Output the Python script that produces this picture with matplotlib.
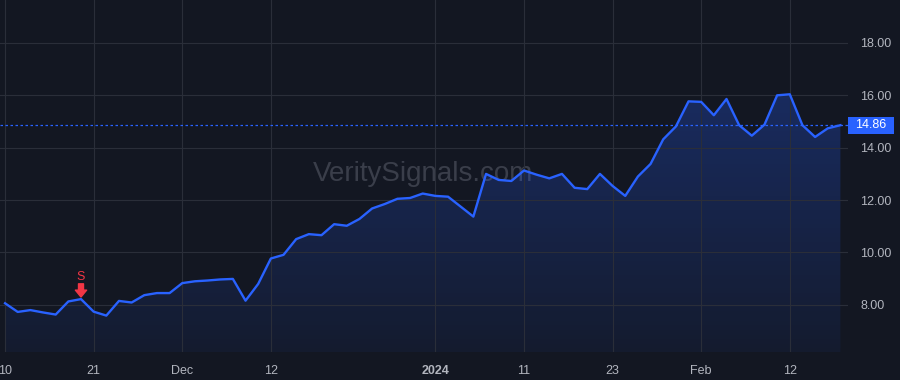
import numpy as np
import matplotlib
matplotlib.use("Agg")
import matplotlib.pyplot as plt
import matplotlib.transforms as mtransforms
from matplotlib.patches import Rectangle, Polygon

# closing prices, one per trading day (Nov 10 2023 .. Feb 16 2024)
prices = [8.06, 7.73, 7.80, 7.71, 7.63, 8.13, 8.22, 7.74, 7.59, 8.15,
          8.09, 8.37, 8.45, 8.45, 8.83, 8.90, 8.93, 8.97, 8.99, 8.16,
          8.80, 9.77, 9.91, 10.51, 10.70, 10.66, 11.08, 11.02, 11.28, 11.68,
          11.85, 12.05, 12.08, 12.25, 12.16, 12.13, 11.75, 11.37, 13.00, 12.77,
          12.73, 13.13, 12.97, 12.83, 13.00, 12.47, 12.42, 13.00, 12.54, 12.16,
          12.90, 13.38, 14.32, 14.81, 15.77, 15.75, 15.24, 15.86, 14.86, 14.46,
          14.88, 16.00, 16.04, 14.86, 14.41, 14.74, 14.86]

tick_pos = [0, 7, 14, 21, 34, 41, 48, 55, 62]
tick_labels = ["10", "21", "Dec", "12", "2024", "11", "23", "Feb", "12"]
y_ticks = [8, 10, 12, 14, 16, 18]
signal_idx = 6
signal_label = "S"
last_price = 14.86

bg = "#131722"
grid = "#2a2e39"
blue = "#2962ff"
txt = "#b2b5be"
red = "#f23645"

plt.rcParams['font.family'] = ['Liberation Sans', 'DejaVu Sans']

x = np.arange(len(prices))
y = np.array(prices)

fig = plt.figure(figsize=(9, 3.8), dpi=100, facecolor=bg)
ax = fig.add_axes([0, 28/380, 848/900, 352/380])
ax.set_facecolor(bg)

ax.set_xlim(-0.4, 66.6)
ax.set_ylim(6.2, 19.64)

# gradient fill under the line
ymin, ymax = ax.get_ylim()
grad = np.linspace(0, 1, 256).reshape(-1, 1)
cmap = matplotlib.colors.LinearSegmentedColormap.from_list(
    "g", [(0.16, 0.38, 1.0, 0.06), (0.16, 0.38, 1.0, 0.28)])
im = ax.imshow(grad, extent=[x[0], x[-1], ymin, 16.1], origin="lower",
               aspect="auto", cmap=cmap, zorder=1)
verts = [(x[0], ymin)] + list(zip(x, y)) + [(x[-1], ymin)]
poly = Polygon(verts, closed=True, facecolor="none", edgecolor="none")
ax.add_patch(poly)
im.set_clip_path(poly)

ax.plot(x, y, color=blue, lw=1.7, zorder=3)

# last price line
ax.axhline(last_price, color=blue, lw=0.9, ls=(0, (2, 2)), zorder=2)

ax.set_xticks(tick_pos)
ax.set_xticklabels(tick_labels)
for lab in ax.get_xticklabels():
    if lab.get_text() == "2024":
        lab.set_fontweight("bold")
ax.set_yticks(y_ticks)
ax.set_yticklabels([f"{v:.2f}" for v in y_ticks])
ax.yaxis.tick_right()
ax.tick_params(axis="both", length=0, colors=txt, labelsize=9)
ax.tick_params(axis="x", pad=9)
ax.tick_params(axis="y", pad=9)
for lab in ax.get_yticklabels():
    lab.set_horizontalalignment("left")
ax.grid(True, color=grid, lw=0.8)
for s in ax.spines.values():
    s.set_visible(False)

# price tag on the axis
trans = mtransforms.blended_transform_factory(ax.transAxes, ax.transData)
ax.add_patch(Rectangle((1.0, last_price - 0.33), 46/848, 0.66, transform=trans,
                       facecolor=blue, edgecolor="none", clip_on=False, zorder=5))
ax.text(1.0 + 23/848, last_price, f"{last_price:.2f}", transform=trans,
        ha="center", va="center", color="white", fontsize=9, zorder=6)

# sell signal
sp = (signal_idx, prices[signal_idx])
ax.annotate("", xy=sp, xycoords="data", xytext=(0, 11), textcoords="offset points",
            arrowprops=dict(arrowstyle="simple,head_width=0.9,head_length=0.55,tail_width=0.4",
                            color=red, shrinkA=0, shrinkB=1.5, mutation_scale=9),
            zorder=6)
ax.annotate(signal_label, xy=sp, xycoords="data", xytext=(0, 16),
            textcoords="offset points", color=red, fontsize=9,
            ha="center", va="center", zorder=6)

# watermark
ax.text(0.499, 0.505, "VeritySignals.com", transform=ax.transAxes,
        ha="center", va="center", fontsize=20, color="#3a3e4a", zorder=0.5)

fig.savefig("out.png", dpi=100, facecolor=bg)
